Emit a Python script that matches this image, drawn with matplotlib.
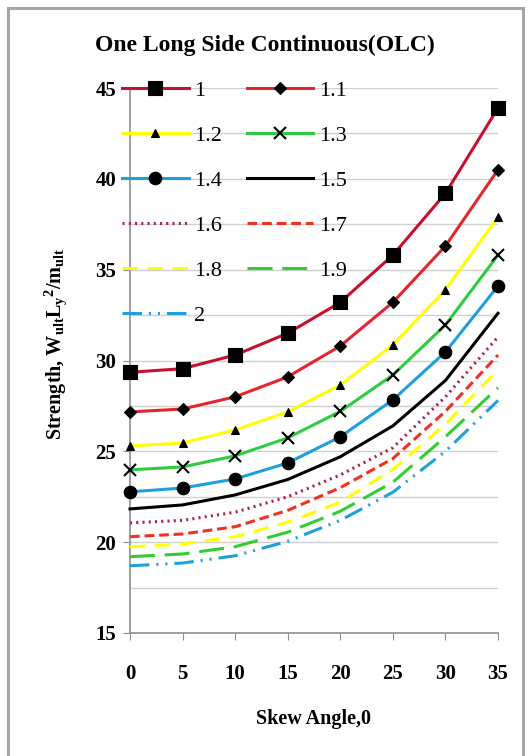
import numpy as np
import matplotlib
matplotlib.use("Agg")
import matplotlib.pyplot as plt
from matplotlib.patches import Rectangle
from matplotlib.ticker import MultipleLocator

plt.rcParams['font.family'] = ['Liberation Serif', 'DejaVu Serif']
plt.rcParams['mathtext.fontset'] = 'custom'
plt.rcParams['mathtext.rm'] = 'Liberation Serif:bold'
plt.rcParams['mathtext.it'] = 'Liberation Serif:bold'
plt.rcParams['mathtext.bf'] = 'Liberation Serif:bold'
plt.rcParams['lines.scale_dashes'] = False

# данные: угол скоса и прочность для каждого отношения сторон
skew = [0, 5, 10, 15, 20, 25, 30, 35]
ratios = ['1', '1.1', '1.2', '1.3', '1.4', '1.5', '1.6', '1.7', '1.8', '1.9', '2']
s_1_0 = [29.35, 29.55, 30.3, 31.5, 33.2, 35.8, 39.2, 43.9]
s_1_1 = [27.17, 27.33, 28.0, 29.1, 30.8, 33.2, 36.3, 40.5]
s_1_2 = [25.3, 25.46, 26.18, 27.17, 28.65, 30.86, 33.9, 37.9]
s_1_3 = [23.98, 24.14, 24.75, 25.74, 27.2, 29.2, 31.96, 35.8]
s_1_4 = [22.77, 22.98, 23.48, 24.36, 25.8, 27.83, 30.47, 34.1]
s_1_5 = [21.83, 22.05, 22.6, 23.45, 24.7, 26.4, 28.9, 32.6]
s_1_6 = [21.06, 21.2, 21.65, 22.5, 23.7, 25.2, 28.0, 31.3]
s_1_7 = [20.3, 20.45, 20.85, 21.75, 23.0, 24.6, 27.2, 30.3]
s_1_8 = [19.74, 19.9, 20.3, 21.1, 22.2, 24.0, 26.5, 29.5]
s_1_9 = [19.2, 19.35, 19.75, 20.55, 21.7, 23.3, 25.8, 28.5]
s_2_0 = [18.7, 18.85, 19.25, 20.05, 21.2, 22.75, 25.0, 27.8]
series = [s_1_0, s_1_1, s_1_2, s_1_3, s_1_4, s_1_5, s_1_6, s_1_7, s_1_8, s_1_9, s_2_0]

# стили линий
colors = ['#C8102E', '#E3262E', '#FFFF00', '#2ECC40', '#1EA0DC', '#000000',
          '#B02040', '#F03020', '#FFFF00', '#33CC33', '#1EA0DC']
markers = ['s', 'D', '^', 'x', 'o', None, None, None, None, None, None]
msizes = [10, 6, 6, 9, 9, 0, 0, 0, 0, 0, 0]
styles = ['-', '-', '-', '-', '-', '-',
          (0, (1.5, 3)), (0, (7, 3.5)), (0, (11, 7)), (0, (18, 7)),
          (0, (14, 5, 1.5, 5, 1.5, 5))]

fig = plt.figure(figsize=(5.32, 7.56), dpi=100)
ax = fig.add_axes([130 / 532, 123 / 756, 368 / 532, 545 / 756])

# серая рамка вокруг рисунка
fig.patches.append(Rectangle((8 / 532, -0.05), 515 / 532, 1.05 - 8 / 756,
                             transform=fig.transFigure, fill=False,
                             edgecolor='#A6A6A6', linewidth=2.2))

handles = []
for vals, lab, c, m, ms, ls in zip(series, ratios, colors, markers, msizes, styles):
    h, = ax.plot(skew, vals, color=c, linestyle=ls, linewidth=2.2, marker=m,
                 markersize=ms, markerfacecolor='black', markeredgecolor='black',
                 markeredgewidth=1.5 if m == 'x' else 0.8, label=lab,
                 clip_on=False, zorder=3)
    handles.append(h)

ax.set_xlim(0, 35)
ax.set_ylim(15, 45)
ax.xaxis.set_major_locator(MultipleLocator(5))
ax.yaxis.set_major_locator(MultipleLocator(5))
ax.yaxis.set_minor_locator(MultipleLocator(2.5))
ax.grid(True, which='both', axis='y', color='#D0D0D0', linewidth=1.0)
ax.set_axisbelow(True)
for sp in ['top', 'right']:
    ax.spines[sp].set_visible(False)
for sp in ['left', 'bottom']:
    ax.spines[sp].set_color('#909090')
    ax.spines[sp].set_linewidth(1.2)

ax.tick_params(axis='x', direction='out', length=5, color='#909090', pad=17,
               labelsize=15)
ax.tick_params(axis='y', which='major', direction='out', length=5,
               color='#909090', pad=5, labelsize=15)
ax.tick_params(axis='y', which='minor', length=0)
for t in ax.get_xticklabels() + ax.get_yticklabels():
    t.set_fontweight('bold')

ax.set_xlabel('Skew Angle,0', fontsize=14.5, fontweight='bold', labelpad=18)
ax.set_ylabel(r'Strength, W$_{\mathrm{ult}}$L$_{\mathrm{y}}$$^{\mathrm{2}}$/m$_{\mathrm{ult}}$',
              fontsize=14.5, fontweight='bold')
ax.yaxis.set_label_coords(-0.165, 0.53)

fig.text(265 / 532, 1 - 45 / 756, 'One Long Side Continuous(OLC)',
         ha='center', va='center', fontsize=17, fontweight='bold')

# легенда заполняется по строкам, как в оригинале
order = [0, 2, 4, 6, 8, 10, 1, 3, 5, 7, 9]
ax.legend([handles[i] for i in order], [ratios[i] for i in order],
          ncol=2, loc='upper left', bbox_to_anchor=(-8 / 368, 1.0145),
          frameon=False, fontsize=16, handlelength=3.0, handletextpad=0.25,
          columnspacing=1.1, labelspacing=1.1, borderpad=0,
          borderaxespad=0)

plt.savefig('out.png', dpi=100)
